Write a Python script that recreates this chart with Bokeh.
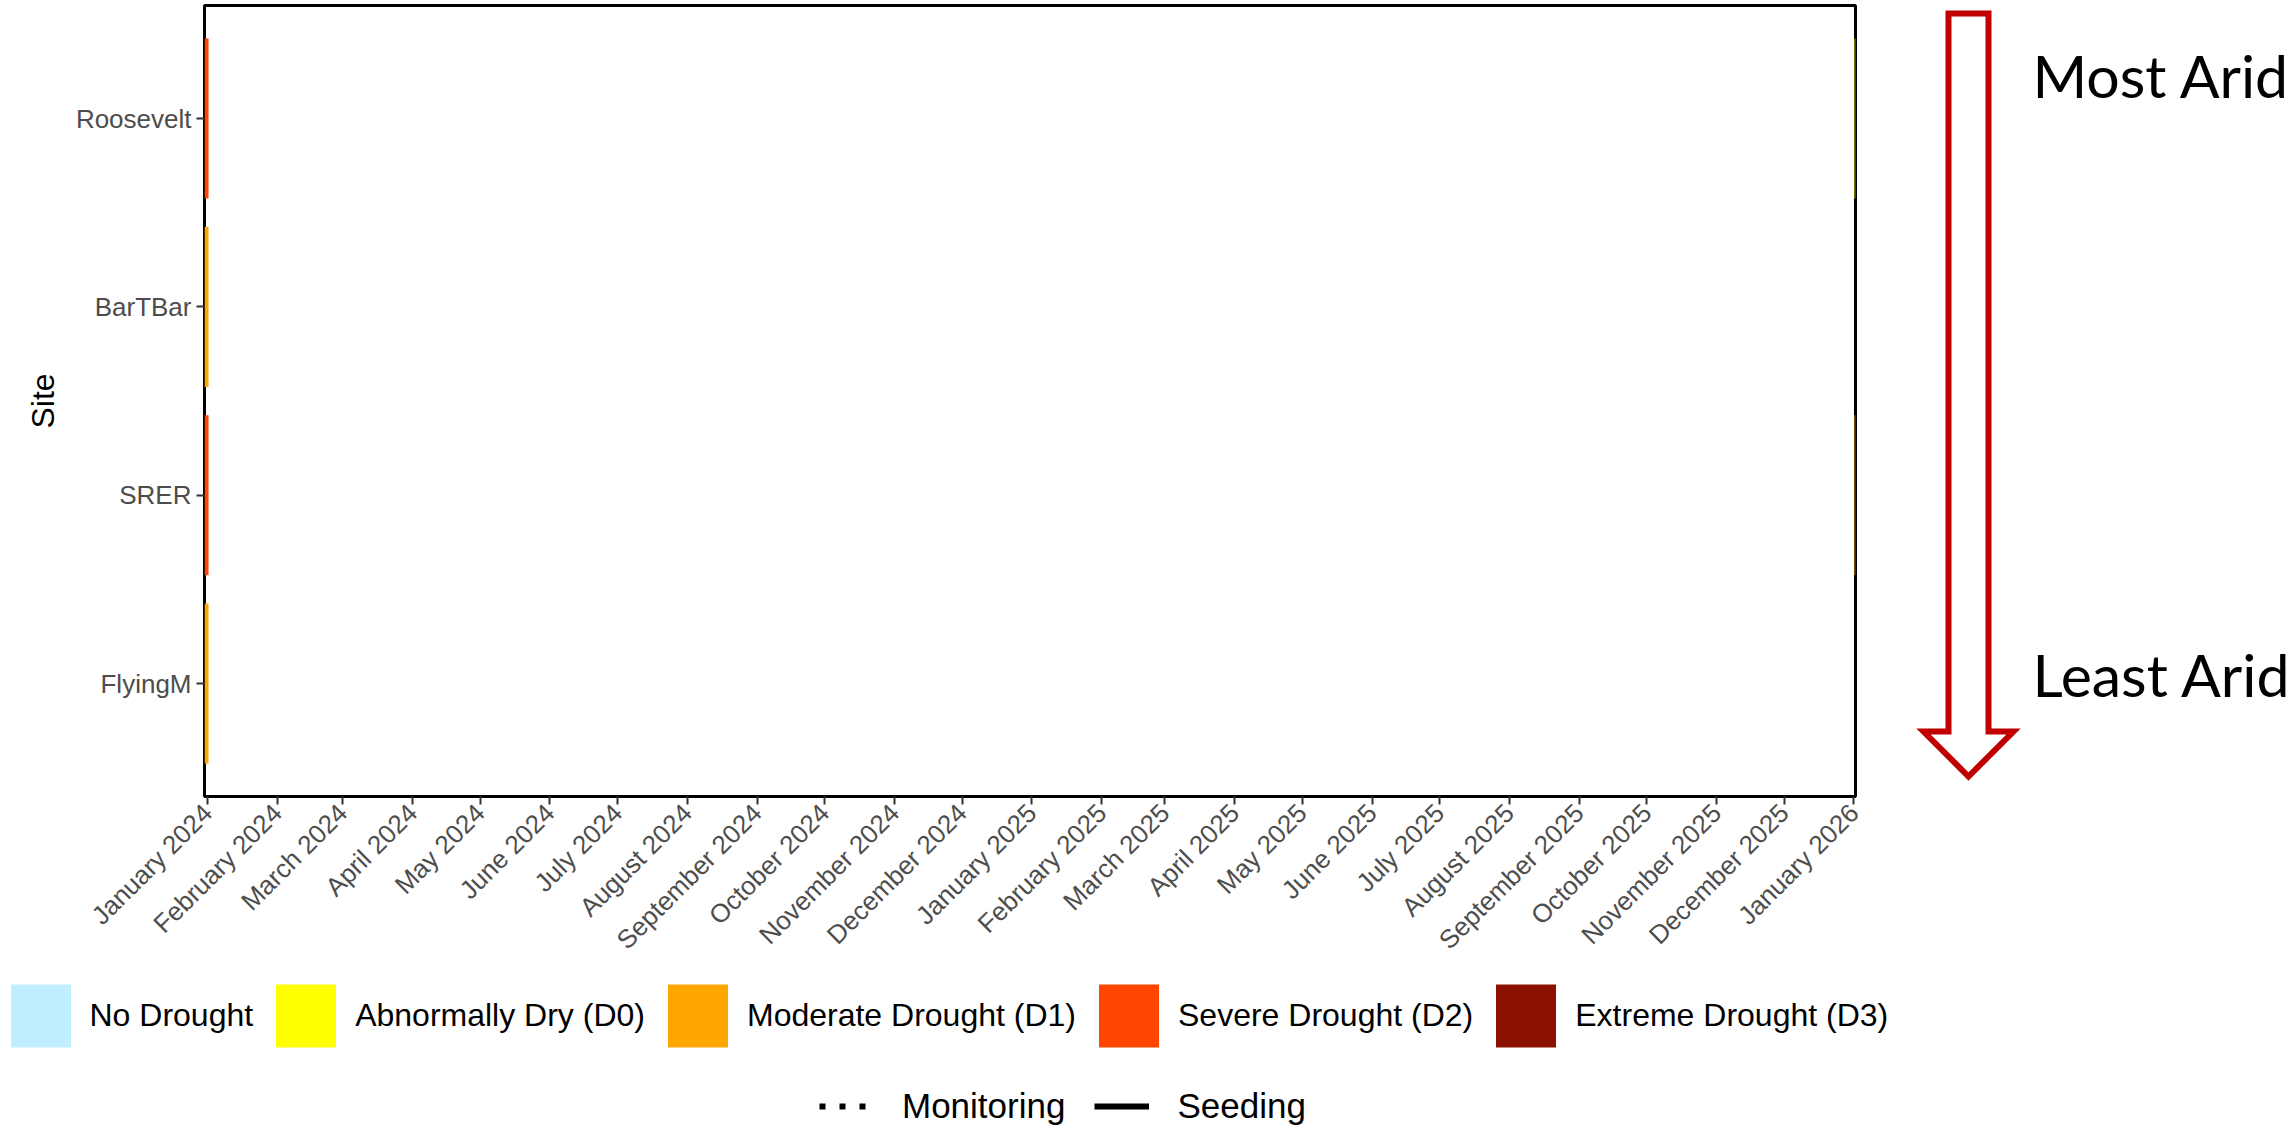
import pandas as pd
from math import pi
from bokeh.plotting import figure
from bokeh.models import (ColumnDataSource, FactorRange, Range1d, FixedTicker,
                          DatetimeTickFormatter, Legend, LegendItem)
from bokeh.core.properties import value
from bokeh.layouts import row, column
from bokeh.embed import file_html
from bokeh.resources import INLINE

# ---------------- data ----------------
sites = ["Roosevelt", "BarTBar", "SRER", "FlyingM"]          # top -> bottom (most -> least arid)

categories = ["No Drought", "Abnormally Dry (D0)", "Moderate Drought (D1)",
              "Severe Drought (D2)", "Extreme Drought (D3)"]
category_colors = ["#BFEFFF", "#FFFF00", "#FFA500", "#FF4500", "#8B1000"]

# weekly drought tiles that fall at the edges of the displayed window
tile_site = ["Roosevelt", "BarTBar", "SRER", "FlyingM", "Roosevelt", "SRER"]
tile_start = ["2023-12-25 00:00", "2023-12-25 00:00", "2023-12-25 00:00", "2023-12-25 00:00",
              "2026-01-01 06:00", "2026-01-01 06:00"]
tile_end = ["2024-01-01 10:00", "2024-01-01 10:00", "2024-01-01 10:00", "2024-01-01 10:00",
            "2026-01-08 00:00", "2026-01-08 00:00"]
tile_category = ["Severe Drought (D2)", "Moderate Drought (D1)", "Severe Drought (D2)",
                 "Moderate Drought (D1)", "Abnormally Dry (D0)", "Moderate Drought (D1)"]

activities = ["Monitoring", "Seeding"]
activity_dash = ["6 14", "solid"]

tick_labels = ["January 2024", "February 2024", "March 2024", "April 2024", "May 2024",
               "June 2024", "July 2024", "August 2024", "September 2024", "October 2024",
               "November 2024", "December 2024", "January 2025", "February 2025",
               "March 2025", "April 2025", "May 2025", "June 2025", "July 2025",
               "August 2025", "September 2025", "October 2025", "November 2025",
               "December 2025", "January 2026"]
x_limits = ["2023-12-30 15:00", "2026-01-01 16:00"]

aridity_labels = ["Most Arid", "Least Arid"]

# ---------------- layout geometry (page pixels) ----------------
FONT = "Liberation Sans"
W, H = 2292, 1131
PW, PH = 1895, 976                 # main plot figure
FL, FT, FR, FB = 204, 5, 1855, 796  # plotting frame edges

# ---------------- main figure ----------------
x0, x1 = pd.Timestamp(x_limits[0]), pd.Timestamp(x_limits[1])
p = figure(width=PW, height=PH,
           x_range=Range1d(x0, x1),
           y_range=FactorRange(factors=list(reversed(sites)), range_padding=0.1,
                               range_padding_units="absolute"),
           x_axis_type="datetime", output_backend="svg", toolbar_location=None,
           min_border_left=FL, min_border_right=PW - FR, min_border_top=FT,
           min_border_bottom=PH - FB)
p.background_fill_color = "white"
p.border_fill_color = "white"
p.outline_line_color = "black"
p.outline_line_width = 3
p.xgrid.visible = False
p.ygrid.visible = False

df = pd.DataFrame({"site": tile_site,
                   "start": pd.to_datetime(tile_start, format="%Y-%m-%d %H:%M"),
                   "end": pd.to_datetime(tile_end, format="%Y-%m-%d %H:%M"),
                   "cat": tile_category})
for cat, col in zip(categories, category_colors):
    sub = df[df["cat"] == cat].reset_index(drop=True)
    if len(sub):
        p.hbar(y="site", left="start", right="end", height=0.85,
               source=ColumnDataSource(sub), fill_color=col, line_color=None)

tick_ms = [pd.to_datetime(t, format="%B %Y").timestamp() * 1000 for t in tick_labels]
p.xaxis.ticker = FixedTicker(ticks=tick_ms)
fmt = "%B %Y"
p.xaxis.formatter = DatetimeTickFormatter(microseconds=fmt, milliseconds=fmt, seconds=fmt,
                                          minsec=fmt, minutes=fmt, hourmin=fmt, hours=fmt,
                                          days=fmt, months=fmt, years=fmt)
p.xaxis.major_label_orientation = pi / 4
for ax in (p.xaxis, p.yaxis):
    ax.axis_line_color = None
    ax.major_tick_line_color = "#333333"
    ax.major_tick_line_width = 2
    ax.major_tick_out = 8
    ax.major_tick_in = 0
    ax.minor_tick_line_color = None
    ax.major_label_text_font = FONT
    ax.major_label_text_color = "#4D4D4D"
p.xaxis.major_label_text_font_size = "26px"
p.xaxis.major_label_standoff = 4
p.yaxis.major_label_text_font_size = "26px"
p.yaxis.major_label_standoff = 5
p.yaxis.axis_label = "Site"
p.yaxis.axis_label_text_font = FONT
p.yaxis.axis_label_text_font_style = "normal"
p.yaxis.axis_label_text_font_size = "32px"
p.yaxis.axis_label_text_color = "black"
p.yaxis.axis_label_standoff = 12

# ---------------- aridity arrow panel (right) ----------------
q = figure(width=W - PW, height=PH, x_range=Range1d(PW, W), y_range=Range1d(FB, FT),
           output_backend="svg", toolbar_location=None,
           x_axis_location=None, y_axis_location=None,
           min_border_left=0, min_border_right=0, min_border_top=FT,
           min_border_bottom=PH - FB)
q.grid.visible = False
q.outline_line_color = None
q.background_fill_color = "white"
q.border_fill_color = "white"
q.patch(x=[1948, 1988, 1988, 2013, 1968, 1923, 1948],
        y=[13, 13, 731, 731, 776, 731, 731],
        fill_color="white", line_color="#C00000", line_width=6, line_join="miter")
q.text(x=[2032, 2032], y=[75, 674], text=aridity_labels, text_font=value("Lato"),
       text_font_size="59px", text_color="black", text_baseline="alphabetic",
       text_align="left")

# ---------------- legend panel (bottom) ----------------
LH = H - PH
r = figure(width=W, height=LH, x_range=Range1d(0, W), y_range=Range1d(0, LH),
           output_backend="svg", toolbar_location=None,
           x_axis_location=None, y_axis_location=None, min_border=0)
r.grid.visible = False
r.outline_line_color = None
r.background_fill_color = "white"
r.border_fill_color = "white"

# legend key renderers (one off-screen sample each, only used for the legend keys)
key_cats = []
for cat, col in zip(categories, category_colors):
    key_cats.append(r.hbar(y=[-1000], left=[0], right=[1], height=1,
                           fill_color=col, line_color=None))
key_acts = []
for act, dash in zip(activities, activity_dash):
    key_acts.append(r.line(x=[-20, -10], y=[-1000, -1000], line_color="black",
                           line_width=6, line_dash=dash))

leg1 = Legend(items=[LegendItem(label=c, renderers=[k]) for c, k in zip(categories, key_cats)],
              location=(2.5, H - 1055), orientation="horizontal",
              glyph_width=75, glyph_height=79, label_standoff=12, spacing=15,
              padding=0, margin=0, border_line_color=None, background_fill_alpha=0,
              label_text_font=FONT, label_text_font_size="32px", label_text_color="black")
leg2 = Legend(items=[LegendItem(label=a, renderers=[k]) for a, k in zip(activities, key_acts)],
              location=(819, H - 1128), orientation="horizontal",
              glyph_width=55, glyph_height=44, label_standoff=28, spacing=29,
              padding=0, margin=0, border_line_color=None, background_fill_alpha=0,
              label_text_font=FONT, label_text_font_size="35px", label_text_color="black")
r.add_layout(leg1)
r.add_layout(leg2)

layout = column(row(p, q), r)
open("out.html", "w").write(file_html(layout, INLINE))
